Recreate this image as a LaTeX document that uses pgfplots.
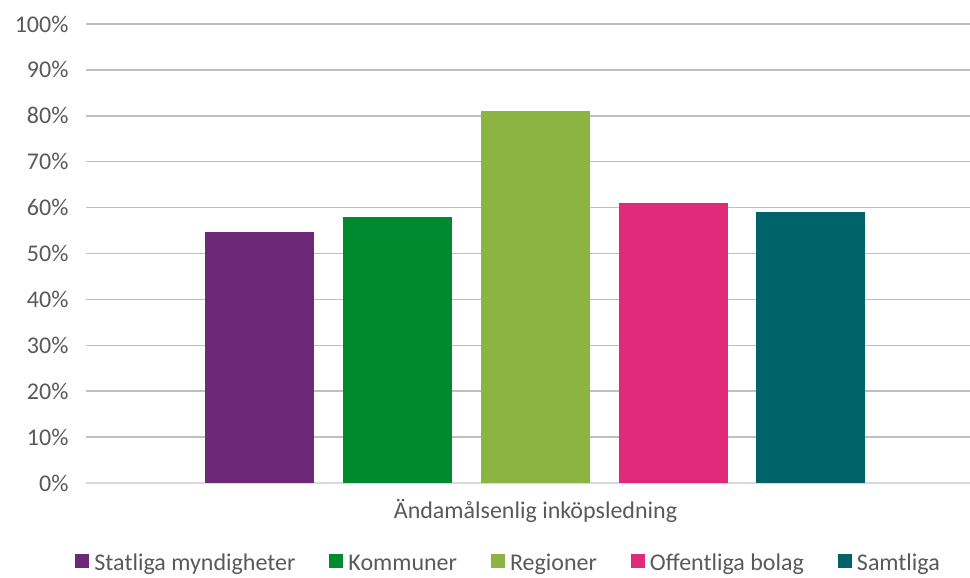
\documentclass[border=0pt]{standalone}
\usepackage{fontspec}
\setmainfont{Carlito}
\usepackage{pgfplots}
\pgfplotsset{compat=1.18}
\definecolor{txt}{RGB}{89,89,89}
\definecolor{grid}{RGB}{217,217,217}
\definecolor{c1}{RGB}{107,41,120}
\definecolor{c2}{RGB}{0,137,47}
\definecolor{c3}{RGB}{140,180,67}
\definecolor{c4}{RGB}{223,42,122}
\definecolor{c5}{RGB}{0,99,105}
\begin{document}
\begin{tikzpicture}
\begin{axis}[
  at={(0pt,0pt)}, anchor=south west,
  scale only axis, width=884pt, height=459pt,
  xmin=0, xmax=884, ymin=0, ymax=100,
  ybar, bar shift=0pt, bar width=109,
  axis x line*=bottom, axis y line*=left,
  x axis line style={grid, line width=1.5pt, -},
  y axis line style={draw=none},
  ymajorgrids, xmajorgrids=false, grid style={grid, line width=1.5pt},
  ytick={0,10,...,100}, yticklabel={\pgfmathprintnumber{\tick}\%},
  /pgf/number format/assume math mode=true,
  xtick={449.5}, xticklabels={Ändamålsenlig inköpsledning},
  major tick length=0pt, tick style={draw=none},
  tick label style={font=\fontsize{24}{28}\selectfont, text=txt},
  yticklabel style={xshift=-14pt},
  xticklabel style={yshift=-13pt},
  legend columns=5,
  legend style={at={(axis description cs:0.477,-0.175)}, anchor=center, draw=none, fill=none,
    font=\fontsize{24}{28}\selectfont, text=txt,
    nodes={inner sep=0pt},
    /tikz/every odd column/.append style={column sep=5pt},
    /tikz/every even column/.append style={column sep=34pt}},
  legend image code/.code={\fill[#1] (0pt,-5pt) rectangle (14pt,9pt);},
]
\addplot[fill=c1, draw=none] coordinates {(173.5,54.7)};
\addplot[fill=c2, draw=none] coordinates {(311.5,58)};
\addplot[fill=c3, draw=none] coordinates {(449.5,81)};
\addplot[fill=c4, draw=none] coordinates {(587.5,61)};
\addplot[fill=c5, draw=none] coordinates {(724.5,59)};
\legend{Statliga myndigheter, Kommuner, Regioner, Offentliga bolag, Samtliga}
\end{axis}
\pgfresetboundingbox
\useasboundingbox (-86pt,-95pt) rectangle (884pt,483pt);
\end{tikzpicture}
\end{document}
